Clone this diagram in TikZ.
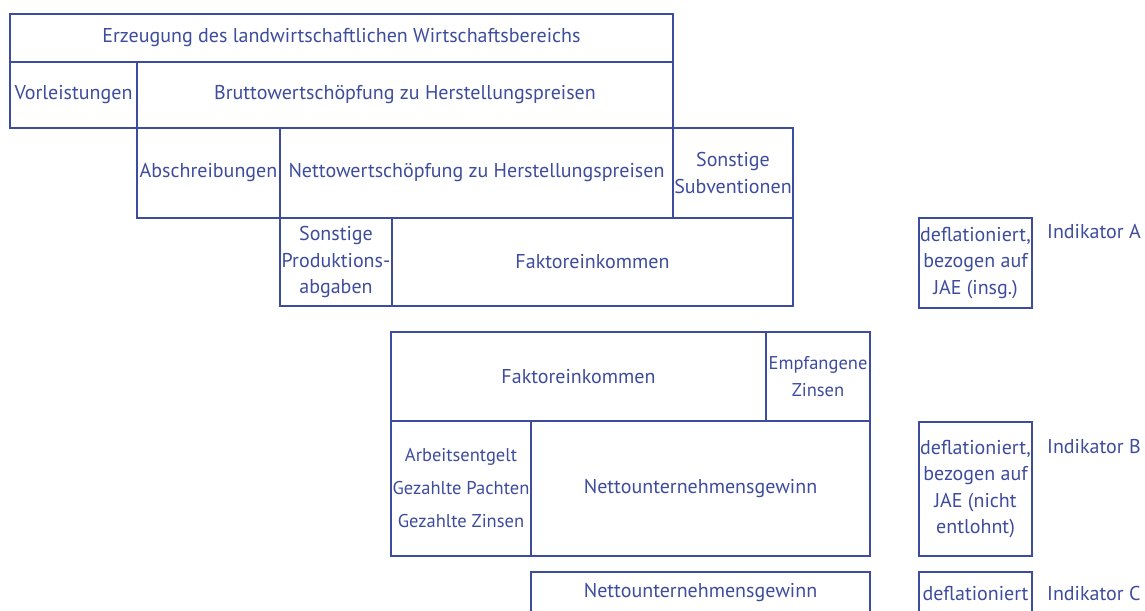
\documentclass[tikz,border=0pt]{standalone}
\usepackage{fontspec}
\setmainfont{PT Sans}
\usepackage{xcolor}
\definecolor{lwblue}{HTML}{3D4C9C}
\tikzset{
  feld/.style={draw=lwblue, line width=1.2pt, text=lwblue, anchor=north west,
    inner sep=1pt, outer sep=0pt, align=center,
    font=\fontsize{20}{26.5}\selectfont},
  eng/.style={font=\fontsize{18.5}{26.5}\selectfont, inner sep=0.5pt},
  kennz/.style={text=lwblue, anchor=base west, inner sep=0pt,
    font=\fontsize{20}{26.5}\selectfont},
}

\begin{document}
\begin{tikzpicture}[x=1pt,y=-1pt]
\useasboundingbox (0,0) rectangle (1145,610);
\clip (0,0) rectangle (1145,610);
% Erzeugung bis Faktoreinkommen
\node[feld, minimum width=663pt, minimum height=48pt] (erz) at (10,14) {Erzeugung des landwirtschaftlichen Wirtschaftsbereichs};
\node[feld, minimum width=127pt, minimum height=66pt] (vor) at (erz.south west) {Vorleistungen};
\node[feld, minimum width=536pt, minimum height=66pt] (brutto) at (vor.north east) {Bruttowertschöpfung zu Herstellungspreisen};
\node[feld, minimum width=143pt, minimum height=90pt] (absch) at (vor.south east) {Abschreibungen};
\node[feld, minimum width=393pt, minimum height=90pt] (netto) at (absch.north east) {Nettowertschöpfung zu Herstellungspreisen};
\node[feld, minimum width=120pt, minimum height=90pt] (subv) at (netto.north east) {Sonstige\\Subventionen};
\node[feld, minimum width=112pt, minimum height=88pt] (abgab) at (absch.south east) {Sonstige\\Produktions-\\abgaben};
\node[feld, minimum width=401pt, minimum height=88pt] (faktor) at (abgab.north east) {Faktoreinkommen};
\node[feld, minimum width=113pt, minimum height=90pt] (deflA) at (919,218) {deflationiert,\\bezogen auf\\JAE (insg.)};
\node[kennz] (indA) at (1047,238) {Indikator A};
% Faktoreinkommen bis Nettounternehmensgewinn
\node[feld, minimum width=375pt, minimum height=89pt] (faktorB) at (391,332) {Faktoreinkommen};
\node[feld, eng, minimum width=104pt, minimum height=89pt] (zinsen) at (faktorB.north east) {Empfangene\\Zinsen};
\node[feld, eng, minimum width=140pt, minimum height=135pt] (arbeit) at (faktorB.south west) {Arbeitsentgelt\\[6.5pt]Gezahlte Pachten\\[6.5pt]Gezahlte Zinsen};
\node[feld, minimum width=339pt, minimum height=135pt] (nug) at (arbeit.north east) {Nettounternehmensgewinn};
\node[feld, minimum width=113pt, minimum height=134pt] (deflB) at (919,422) {deflationiert,\\bezogen auf\\JAE (nicht\\entlohnt)};
\node[kennz] (indB) at (1047,453) {Indikator B};
% Nettounternehmensgewinn
\node[feld, minimum width=339pt, minimum height=42pt] (nugC) at (531,572) {Nettounternehmensgewinn};
\node[feld, minimum width=113pt, minimum height=42pt] (deflC) at (919,572) {deflationiert};
\node[kennz] (indC) at (1047,600) {Indikator C};
\end{tikzpicture}
\end{document}
